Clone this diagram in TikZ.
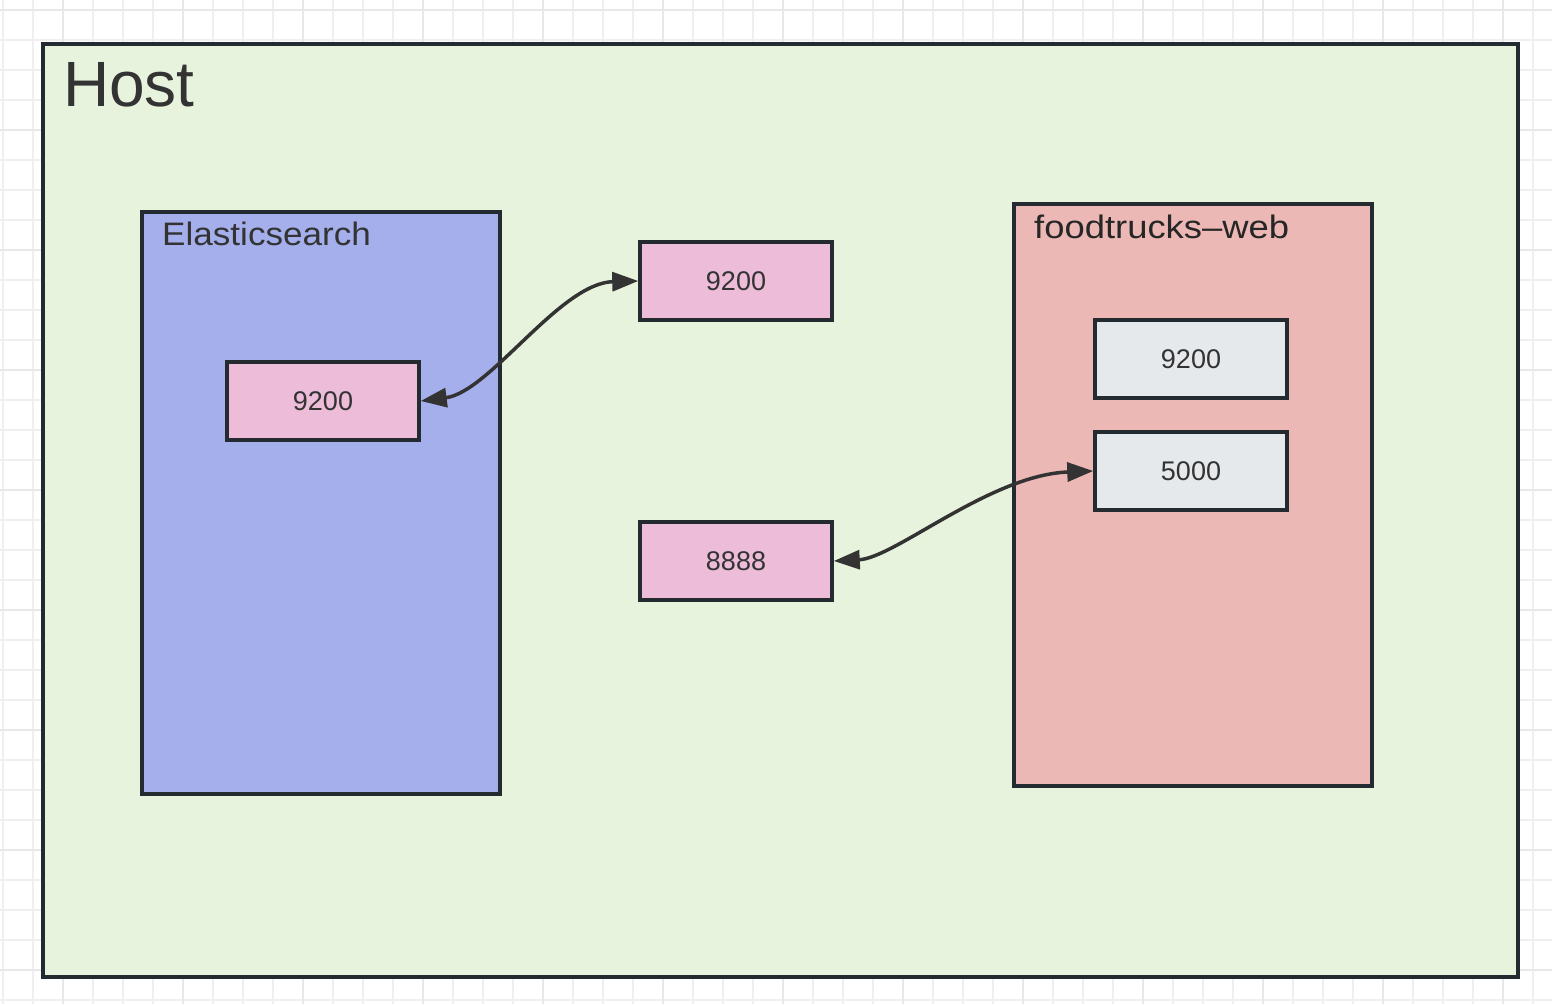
\documentclass[tikz,border=0pt]{standalone}
\usepackage{fontspec}
\setmainfont{Liberation Sans}
\newfontfamily\labelfont[FakeStretch=1.08]{Liberation Sans}
\newfontfamily\labelfontwide[FakeStretch=1.12]{Liberation Sans}
\usetikzlibrary{arrows.meta}
\definecolor{gridminor}{HTML}{EFEFEF}
\definecolor{gridmajor}{HTML}{E8E8E8}
\definecolor{hostfill}{HTML}{E7F3DC}
\definecolor{esfill}{HTML}{A4AFEC}
\definecolor{fwfill}{HTML}{EBB8B5}
\definecolor{portpink}{HTML}{ECBCD9}
\definecolor{portgray}{HTML}{E6E9EC}
\definecolor{edge}{HTML}{232A30}
\definecolor{txt}{HTML}{333333}
\definecolor{arrowc}{HTML}{333333}
\tikzset{
  container/.style={draw=edge, line width=3.5pt, inner sep=0pt, outer sep=0pt, anchor=north west},
  port/.style={draw=edge, line width=3.5pt, inner sep=0pt, minimum width=192pt, minimum height=78pt,
    text=txt, font=\fontsize{27}{30}\selectfont},
  boxlabel/.style={anchor=base west, inner sep=0pt, text=txt},
  link/.style={draw=arrowc, line width=3.5pt, {Triangle[length=26pt,width=19pt]}-{Triangle[length=26pt,width=19pt]}}
}
\begin{document}
\begin{tikzpicture}[x=1pt,y=-1pt]
\useasboundingbox (0,0) rectangle (1552,1004);
\fill[white] (0,0) rectangle (1552,1004);
\begin{scope}
\clip (0,0) rectangle (1552,1004);
\foreach \gx in {3,33,...,1533} \draw[gridminor, line width=1.5pt] (\gx,0) -- (\gx,1004);
\foreach \gy in {10,40,...,1000} \draw[gridminor, line width=1.5pt] (0,\gy) -- (1552,\gy);
\foreach \gx in {63,183,...,1503} \draw[gridmajor, line width=2.5pt] (\gx,0) -- (\gx,1004);
\foreach \gy in {10,130,...,970} \draw[gridmajor, line width=2.5pt] (0,\gy) -- (1552,\gy);
\end{scope}

% Host
\node[container, fill=hostfill, minimum width=1475pt, minimum height=933pt] (host) at (43,44) {};
\node[boxlabel, font=\fontsize{64}{70}\selectfont] (hostlabel) at (63,106) {Host};

% Elasticsearch container
\node[container, fill=esfill, minimum width=358pt, minimum height=582pt] (es) at (142,212) {};
\node[boxlabel, font=\labelfont\fontsize{32.5}{36}\selectfont] (eslabel) at (162,245) {Elasticsearch};

% foodtrucks-web container
\node[container, fill=fwfill, minimum width=358pt, minimum height=582pt] (fw) at (1014,204) {};
\node[boxlabel, font=\labelfontwide\fontsize{32.5}{36}\selectfont, text=black!85] (fwlabel) at (1034,238) {foodtrucks–web};

% ports
\node[port, fill=portpink] (es9200) at (323,401) {9200};
\node[port, fill=portpink] (h9200) at (736,281) {9200};
\node[port, fill=portpink] (h8888) at (736,561) {8888};
\node[port, fill=portgray] (fw9200) at (1191,359) {9200};
\node[port, fill=portgray] (fw5000) at (1191,471) {5000};

% links
\draw[link] (es9200.east) .. controls (490,392) and (560,283) .. (h9200.west);
\draw[link] (h8888.east) .. controls (895,558) and (990,475) .. (fw5000.west);
\end{tikzpicture}
\end{document}
